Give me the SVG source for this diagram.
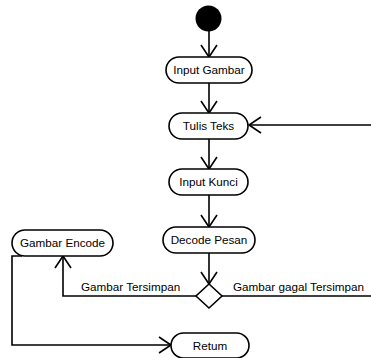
<svg xmlns="http://www.w3.org/2000/svg" width="371" height="358" viewBox="0 0 371 358">
<style>
.n rect{fill:#fff;stroke:#000;stroke-width:1.6}
.n polygon{fill:#fff;stroke:#000;stroke-width:1.6}
text{font-family:"Liberation Sans",Arial,sans-serif;font-size:11.7px;fill:#000}
.c{text-anchor:middle}
#connectors path{fill:none;stroke:#000;stroke-width:1.6;marker-end:url(#arr)}
</style>
<defs>
<marker id="arr" markerUnits="userSpaceOnUse" markerWidth="16" markerHeight="20" viewBox="-14 -10 16 20" refX="0" refY="0" orient="auto">
<path d="M-12,-8 L0,0 L-12,8" fill="none" stroke="#000" stroke-width="1.6"/>
</marker>
</defs>
<g id="connectors">
<path d="M209,31 V57"/>
<path d="M209,83 V113"/>
<path d="M209,139 V169"/>
<path d="M209,195 V227"/>
<path d="M209,253 V284"/>
<path d="M196,296 H63 V256"/>
<path d="M222,296 H380 V125 H249"/>
<path d="M22,256 H12 V345 H171"/>
</g>
<g id="start" class="n"><circle cx="208.5" cy="18.5" r="13" fill="#000"/></g>
<g id="input-gambar" class="n"><rect x="166" y="57" width="86" height="26" rx="13"/><text class="c" x="209" y="74">Input Gambar</text></g>
<g id="tulis-teks" class="n"><rect x="169" y="113" width="79" height="26" rx="13"/><text class="c" x="208.5" y="130">Tulis Teks</text></g>
<g id="input-kunci" class="n"><rect x="169" y="169" width="79" height="26" rx="13"/><text class="c" x="208.5" y="186">Input Kunci</text></g>
<g id="decode-pesan" class="n"><rect x="163" y="227" width="92" height="26" rx="13"/><text class="c" x="209" y="244">Decode Pesan</text></g>
<g id="gambar-encode" class="n"><rect x="12" y="230" width="101" height="26" rx="13"/><text class="c" x="62.5" y="247">Gambar Encode</text></g>
<g id="decision" class="n"><polygon points="209,284 222,296 209,308 196,296"/></g>
<g id="retum" class="n"><rect x="171" y="333" width="78" height="25" rx="12.5"/><text class="c" x="210" y="350">Retum</text></g>
<g id="labels">
<text x="81" y="291">Gambar Tersimpan</text>
<text x="233" y="291">Gambar gagal Tersimpan</text>
</g>
</svg>
